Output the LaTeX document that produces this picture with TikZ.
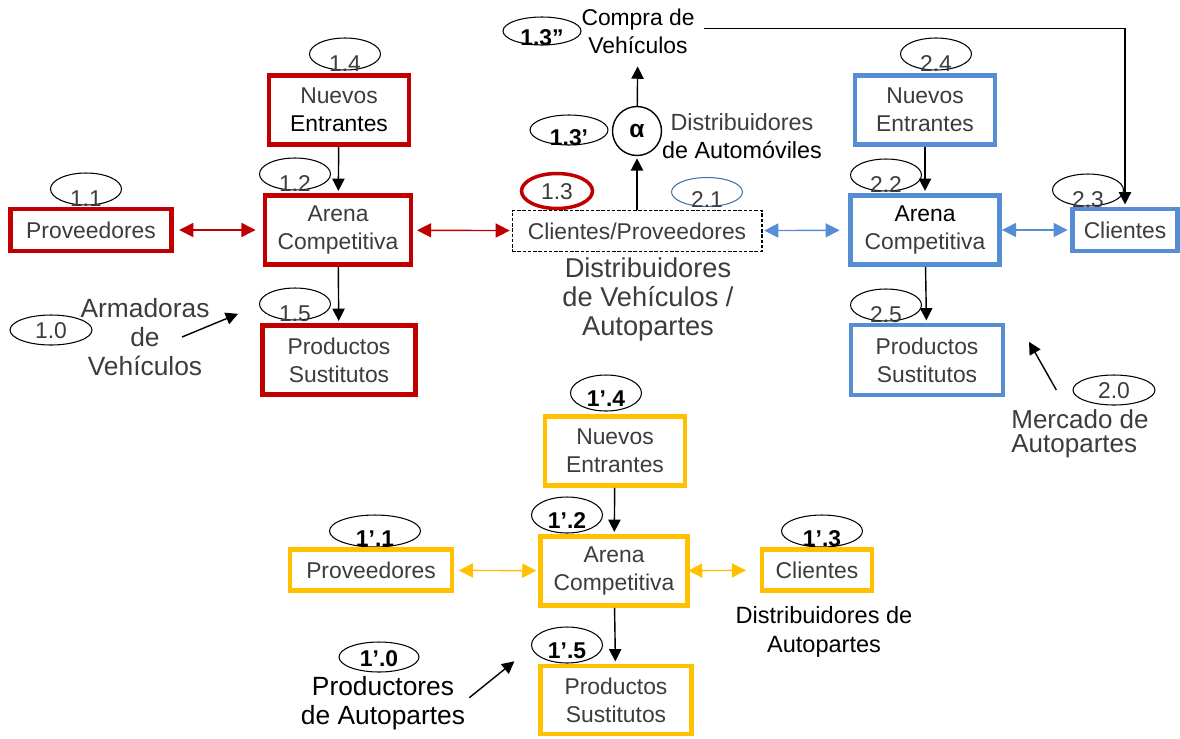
\documentclass[tikz,border=0pt]{standalone}
\usepackage{fontspec}
\setmainfont{Liberation Sans}
\usepackage{tikz}
\usetikzlibrary{arrows.meta, shapes.geometric}

\definecolor{rojo}{HTML}{C00000}
\definecolor{azul}{HTML}{558ED5}
\definecolor{amarillo}{HTML}{FFC000}
\definecolor{gristxt}{HTML}{3C3C3C}

% texto del ovalo bajado sin cambiar su tamano
\newcommand{\bajo}[2]{\raisebox{#1}[0pt][0pt]{#2}}

\begin{document}
\begin{tikzpicture}[x=0.02cm,y=-0.02cm,->,>={Triangle[length=7pt,width=7pt]},line width=0.8pt,shorten >=1.2pt,
        font=\fontsize{13}{16}\selectfont]
                \tikzset{caja/.style={draw, rectangle, fill=white, line width=2.8pt, align=center, inner sep=1pt, text=gristxt, minimum height=1.38cm},
                    cajab/.style={caja, minimum height=0.84cm},
                    elip/.style={draw, ellipse, line width=0.6pt, inner sep=0pt, minimum width=1.42cm, minimum height=0.64cm, text=gristxt},
                    elipn/.style={elip, text=black, font=\fontsize{13}{15}\selectfont\bfseries},
                    texto/.style={align=center, inner sep=2pt},
                    doble/.style={<->, >={Triangle[length=8pt,width=8pt]}, line width=0.8pt}}

                \useasboundingbox (0,0) rectangle (1180,738);

                % etiquetas (ovalos)
                \node[elip] (r14) at (345,54) {\bajo{-10pt}{1.4}};
                \node[elip] (r12) at (295,174) {\bajo{-10pt}{1.2}};
                \node[elip] (r11) at (86,189) {\bajo{-10pt}{1.1}};
                \node[elip] (r15) at (295,304) {\bajo{-10pt}{1.5}};
                \node[elip, minimum width=1.64cm, minimum height=0.6cm] (r10) at (51,330) {\bajo{-4.7pt}{1.0}};
                \node[elip, draw=rojo, line width=2pt, minimum height=0.7cm] (m13) at (557,191) {\bajo{-4.7pt}{1.3}};
                \node[elip, draw=azul!80!black, minimum height=0.58cm] (m21) at (707,192) {\bajo{-9pt}{2.1}};
                \node[elipn, minimum width=1.56cm, minimum height=0.6cm] (m13p) at (569,130) {\bajo{-9pt}{1.3’}};
                \node[elipn, minimum width=1.56cm, minimum height=0.56cm] (m13pp) at (542,31) {\bajo{-8pt}{1.3”}};
                \node[elip] (b24) at (936,54) {\bajo{-10pt}{2.4}};
                \node[elip] (b22) at (886,175) {\bajo{-10pt}{2.2}};
                \node[elip] (b23) at (1088,190) {\bajo{-10pt}{2.3}};
                \node[elip] (b25) at (886,305) {\bajo{-10pt}{2.5}};
                \node[elip, minimum width=1.64cm, minimum height=0.6cm] (b20) at (1114,390) {\bajo{-4.7pt}{2.0}};
                \node[elipn, minimum height=0.72cm] (y14) at (606,393) {\bajo{-7.5pt}{1’.4}};
                \node[elipn, minimum height=0.72cm] (y12) at (567,515) {\bajo{-7.5pt}{1’.2}};
                \node[elipn, minimum width=1.82cm] (y11) at (375,531) {\bajo{-9pt}{1’.1}};
                \node[elipn, minimum width=1.62cm] (y13) at (822,531) {\bajo{-9pt}{1’.3}};
                \node[elipn, minimum height=0.72cm] (y15) at (567,645) {\bajo{-7.5pt}{1’.5}};
                \node[elipn, minimum width=1.6cm, minimum height=0.6cm] (y10) at (379,657) {\bajo{-5.5pt}{1’.0}};

                % armadoras
                \node[caja, draw=rojo, minimum width=2.8cm] (rNuevos) at (339,110) {Nuevos\\\textcolor{black}{Entrantes}};
                \node[caja, draw=rojo, minimum width=2.92cm] (rArena) at (338,230) {Arena\\Competitiva};
                \node[cajab, draw=rojo, minimum width=3.22cm] (rProv) at (91,230) {Proveedores};
                \node[caja, draw=rojo, minimum width=3.06cm] (rProd) at (339,360) {Productos\\Sustitutos};
                \node[texto, text=gristxt, font=\fontsize{15}{16.5}\selectfont] (tArm) at (145,337) {Armadoras\\de\\Vehículos};
                \coordinate (pArm) at (240,313);

                % distribuidores
                \node[draw, dash pattern=on 2pt off 1pt, line width=0.6pt, fill=white, minimum width=5cm, minimum height=0.82cm, text=gristxt] (mCP) at (637,231) {Clientes/Proveedores};
                \node[draw, circle, line width=0.8pt, minimum size=0.98cm, inner sep=0pt, font=\fontsize{14}{16}\selectfont\bfseries] (alfa) at (637,131) {α};
                \node[texto] (tCompra) at (638,31) {Compra de\\Vehículos};
                \node[texto, font=\fontsize{13.3}{16}\selectfont] (tDistA) at (742,136) {\textcolor{gristxt}{Distribuidores}\\de Automóviles};
                \node[texto, text=gristxt, font=\fontsize{15.5}{16.5}\selectfont] (tDistV) at (648,299) {Distribuidores\\de Vehículos /\\Autopartes};

                % autopartes
                \node[caja, draw=azul, minimum width=2.8cm] (bNuevos) at (925,110) {Nuevos\\Entrantes};
                \node[caja, draw=azul, minimum width=2.98cm] (bArena) at (925,230) {\textcolor{black}{Arena}\\Competitiva};
                \node[cajab, draw=azul, minimum width=2.1cm] (bCli) at (1125,230) {Clientes};
                \node[caja, draw=azul, minimum width=3.04cm, minimum height=1.4cm] (bProd) at (927,360) {Productos\\Sustitutos};
                \node[texto, align=left, text=gristxt, font=\fontsize{14.8}{13.5}\selectfont] (tMerc) at (1080,434) {Mercado de\\Autopartes};
                \coordinate (pMerc) at (1028,340);

                % productores de autopartes
                \node[caja, draw=amarillo, minimum width=2.8cm] (yNuevos) at (615,451) {Nuevos\\Entrantes};
                \node[caja, draw=amarillo, minimum width=2.94cm] (yArena) at (614,571) {Arena\\Competitiva};
                \node[cajab, draw=amarillo, minimum width=3.24cm, minimum height=0.82cm] (yProv) at (371,570) {Proveedores};
                \node[cajab, draw=amarillo, minimum width=2.2cm, minimum height=0.82cm] (yCli) at (817,570) {Clientes};
                \node[caja, draw=amarillo, minimum width=3.02cm, minimum height=1.36cm] (yProd) at (616,700) {Productos\\Sustitutos};
                \node[texto, font=\fontsize{15}{16.5}\selectfont] (tProd) at (383,703) {Productores\\de Autopartes};
                \node[texto, font=\fontsize{13.4}{16.5}\selectfont] (tDistAP) at (824,632) {Distribuidores de\\Autopartes};
                \coordinate (pProd) at (516,660);

                \path (rNuevos) edge (rArena);
                \path (rArena) edge (rProd);
                \path (rProv) edge[doble, rojo, shorten <=3pt, shorten >=4pt] (rArena);
                \path (rArena) edge[doble, rojo, shorten <=2pt, shorten >=1pt] (mCP);
                \path ([xshift=-18pt]tArm.east) edge (pArm);

                \path (mCP) edge (alfa);
                \path (alfa) edge[shorten >=5pt] (tCompra);
                \draw ([xshift=3pt,yshift=1.5pt]tCompra.east) -| (bCli.north);
                \path (mCP) edge[doble, azul, shorten <=1pt, shorten >=4.8pt] (bArena);

                \path (bNuevos) edge (bArena);
                \path (bArena) edge (bProd);
                \path (bArena) edge[doble, azul, shorten <=0pt, shorten >=1.4pt] (bCli);
                \path ([shift={(28pt,9pt)}]tMerc.north west) edge (pMerc);

                \path (yNuevos) edge (yArena);
                \path (yArena) edge (yProd);
                \path (yProv) edge[doble, amarillo, shorten <=2.5pt, shorten >=1pt] (yArena);
                \path (yArena) edge[doble, amarillo, shorten <=-1pt, shorten >=7.7pt] (yCli);
                \path ([yshift=3pt]tProd.east) edge (pProd);
            \end{tikzpicture}
\end{document}
